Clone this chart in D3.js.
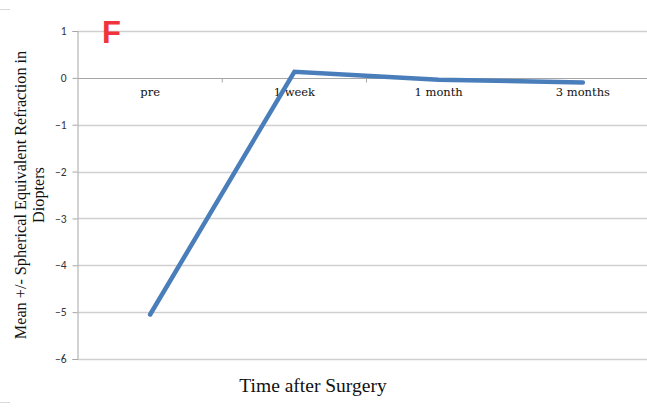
<!DOCTYPE html>
<html>
<head>
<meta charset="utf-8">
<script src="https://cdn.jsdelivr.net/npm/d3@7"></script>
<style>
  body { margin: 0; background: #fff; }
  svg { display: block; }
</style>
</head>
<body>
<div id="chart"></div>
<script>
const categories = ["pre", "1 week", "1 month", "3 months"];
const values = [-5.05, 0.13, -0.04, -0.1];
const yTicks = [1, 0, -1, -2, -3, -4, -5, -6];

const width = 647;
const height = 410;
const margin = { top: 31, right: -8, bottom: 51, left: 78 };

const svg = d3
  .select("#chart")
  .append("svg")
  .attr("width", width)
  .attr("height", height);

const x = d3
  .scaleBand()
  .domain(categories)
  .range([margin.left, width - margin.right]);

const y = d3
  .scaleLinear()
  .domain([-6, 1])
  .range([height - margin.bottom, margin.top]);

// stray border bits
svg.append("line").attr("x1", 0).attr("x2", 10).attr("y1", 9.5).attr("y2", 9.5)
  .attr("stroke", "#d9d9d9");
svg.append("line").attr("x1", 0).attr("x2", 10).attr("y1", 402.5).attr("y2", 402.5)
  .attr("stroke", "#d9d9d9");

// gridlines
svg
  .append("g")
  .selectAll("line")
  .data(yTicks.filter((d) => d !== 0))
  .join("line")
  .attr("x1", margin.left)
  .attr("x2", width)
  .attr("y1", (d) => Math.round(y(d)) + 0.5)
  .attr("y2", (d) => Math.round(y(d)) + 0.5)
  .attr("stroke", "#d0d0d0")
  .attr("stroke-width", 1.3);

// y axis
const yAxis = svg
  .append("g")
  .attr("transform", `translate(${margin.left - 0.5},0)`)
  .call(d3.axisLeft(y).tickValues(yTicks).tickSize(5).tickFormat(d3.format("d")));
yAxis.select(".domain").attr("stroke", "#a6a6a6");
yAxis.selectAll(".tick line").attr("stroke", "#a6a6a6");
yAxis
  .selectAll(".tick text")
  .attr("x", -11)
  .attr("text-anchor", "end")
  .attr("fill", "#333")
  .style("font-family", "Carlito, 'Liberation Sans', sans-serif")
  .style("font-size", "11.5px");

// category axis at zero
const xAxis = svg
  .append("g")
  .attr("transform", `translate(0,${Math.round(y(0)) + 0.5})`)
  .call(d3.axisBottom(x).tickSize(0).tickSizeOuter(0));
xAxis.select(".domain").attr("stroke", "#a6a6a6").attr("d", `M${margin.left},0H${width}`);
xAxis
  .selectAll(".tick text")
  .attr("dy", "1.25em")
  .attr("fill", "#111")
  .style("font-family", "'DejaVu Serif', Georgia, serif")
  .style("font-size", "11.5px");
xAxis
  .append("g")
  .selectAll("line")
  .data(categories.slice(1))
  .join("line")
  .attr("x1", (d) => x(d))
  .attr("x2", (d) => x(d))
  .attr("y1", 0)
  .attr("y2", 4)
  .attr("stroke", "#a6a6a6");

// data line
const line = d3
  .line()
  .x((d, i) => x(categories[i]) + x.bandwidth() / 2)
  .y((d) => y(d));

svg
  .append("path")
  .datum(values)
  .attr("d", line)
  .attr("fill", "none")
  .attr("stroke", "#4a7ebb")
  .attr("stroke-width", 4.5)
  .attr("stroke-linejoin", "miter")
  .attr("stroke-linecap", "round");

// axis titles
const yTitle = svg
  .append("text")
  .attr("transform", `translate(26,${(y(1) + y(-6)) / 2}) rotate(-90)`)
  .attr("text-anchor", "middle")
  .style("font-family", "'Liberation Serif', 'Times New Roman', serif")
  .style("font-size", "16.2px")
  .attr("fill", "#111");
yTitle.append("tspan").attr("x", 0).attr("dy", 0)
  .text("Mean +/- Spherical Equivalent Refraction in");
yTitle.append("tspan").attr("x", 0).attr("dy", "1.1em").text("Diopters");

svg
  .append("text")
  .attr("x", 313)
  .attr("y", 392)
  .attr("text-anchor", "middle")
  .style("font-family", "'Liberation Serif', 'Times New Roman', serif")
  .style("font-size", "19.5px")
  .attr("fill", "#111")
  .text("Time after Surgery");

// panel letter
svg
  .append("text")
  .attr("x", 102)
  .attr("y", 43)
  .style("font-family", "'Liberation Sans', Arial, sans-serif")
  .style("font-weight", "bold")
  .style("font-size", "31px")
  .attr("fill", "#f0343c")
  .text("F");
</script>
</body>
</html>
